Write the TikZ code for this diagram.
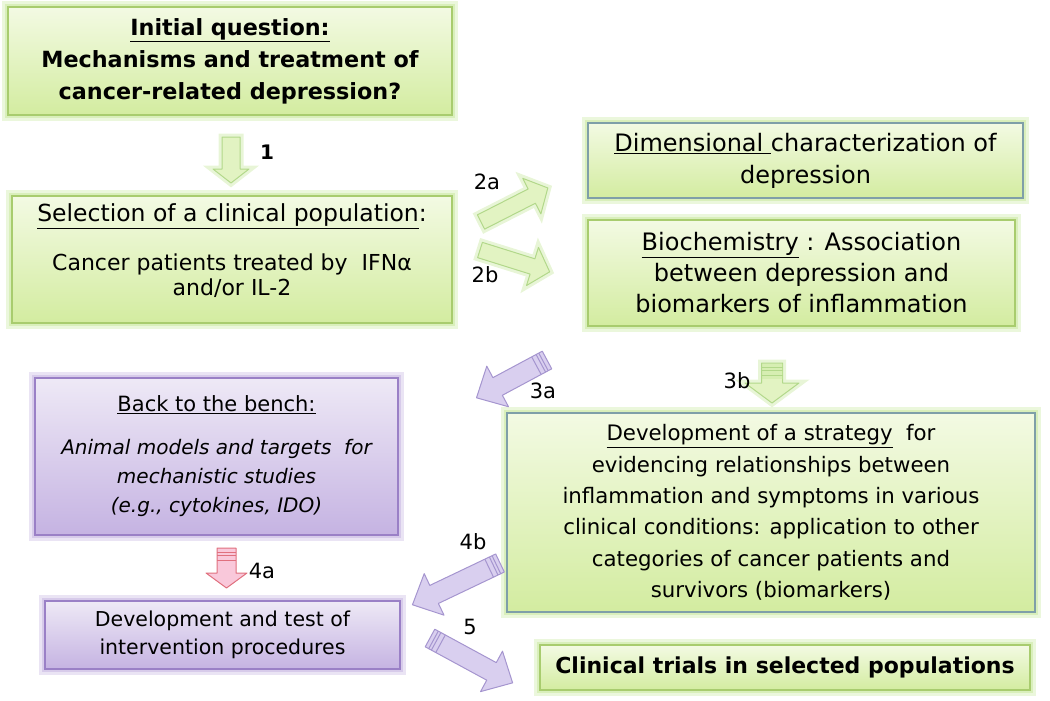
\documentclass[tikz,border=0pt]{standalone}
\usepackage{fontspec}
\setmainfont{DejaVu Sans}
\definecolor{gtop}{HTML}{F3FAE3}
\definecolor{gbot}{HTML}{D3ECA0}
\definecolor{gborder}{HTML}{A8CC6E}
\definecolor{glow}{HTML}{C6E79A}
\definecolor{bborder}{HTML}{7F9FA8}
\definecolor{ptop}{HTML}{EEE9F6}
\definecolor{pbot}{HTML}{C5B3E2}
\definecolor{pborder}{HTML}{9A80C6}
\definecolor{pglow}{HTML}{C4B2E0}
\definecolor{pinkfill}{HTML}{F9C8DA}
\definecolor{pinkdraw}{HTML}{E0707E}
\definecolor{garrfill}{HTML}{E2F3C2}
\definecolor{garrdraw}{HTML}{B2D88A}
\definecolor{parrfill}{HTML}{D9CFEF}
\definecolor{parrdraw}{HTML}{A595CF}
\tikzset{
  gbox/.style={draw=gborder, line width=1.5pt, top color=gtop, bottom color=gbot,
    align=center, inner sep=0pt, text=black,
    preaction={draw=glow, line width=12pt, opacity=0.35},
    preaction={draw=glow, line width=6pt, opacity=0.5}},
  pbox/.style={draw=pborder, line width=1.5pt, top color=ptop, bottom color=pbot,
    align=center, inner sep=0pt, text=black,
    preaction={draw=pglow, line width=12pt, opacity=0.35},
    preaction={draw=pglow, line width=6pt, opacity=0.5}},
  btext/.style={align=center, inner sep=0pt, text=black},
  garrow/.style={draw=garrdraw, fill=garrfill, line width=1pt, line join=round,
    preaction={draw=glow, line width=7pt, opacity=0.4}},
  parrow/.style={draw=parrdraw, fill=parrfill, line width=1pt, line join=round},
  pkarrow/.style={draw=pinkdraw, fill=pinkfill, line width=1pt, line join=round},
  lbl/.style={font=\fontsize{21}{24}\selectfont, inner sep=1pt},
}
% #1 style, #2 tail point, #3 angle, #4 length, #5 shaft half width,
% #6 head half width, #7 head length, #8 stripes (0/1)
\newcommand\blockarr[8]{%
  \begin{scope}[shift={#2}, rotate=#3]
    \path[#1] (0,-#5) -- ({#4-#7},-#5) -- ({#4-#7},-#6) -- (#4,0)
      -- ({#4-#7},#6) -- ({#4-#7},#5) -- (0,#5) -- cycle;
    \ifnum#8=1
      \draw[#1, fill=none, preaction={}] (4,-#5) -- (4,#5) (7,-#5) -- (7,#5) (12,-#5) -- (12,#5);
    \fi
  \end{scope}}
\begin{document}
\begin{tikzpicture}[x=1pt,y=-1pt]
\useasboundingbox (0,0) rectangle (1050,701);
% boxes
\node[gbox, minimum width=444pt, minimum height=108pt,
  font=\bfseries\fontsize{22.3}{32}\selectfont] (b1) at (230,61)
  {\underline{Initial question:}\\Mechanisms and treatment of\\cancer-related depression?};
\node[gbox, minimum width=440pt, minimum height=127pt] (b2) at (232,259.5) {};
\node[btext, font=\fontsize{23.5}{26}\selectfont] (b2t) at (232,216)
  {\underline{Selection of a clinical population}:};
\node[btext, font=\fontsize{22}{25}\selectfont] (b2s) at (232,276)
  {Cancer patients treated by\ \ IFNα\\and/or IL-2};
\node[gbox, draw=bborder, minimum width=435pt, minimum height=75pt,
  font=\fontsize{24}{32}\selectfont] (b3) at (805.5,160.5)
  {\underline{Dimensional }characterization of\\depression};
\node[gbox, minimum width=427pt, minimum height=106pt,
  font=\fontsize{24}{31}\selectfont] (b4) at (801.5,273)
  {\underline{Biochemistry} : Association\\between depression and\\biomarkers of inflammation};
\node[pbox, minimum width=363pt, minimum height=157pt,
  font=\itshape\fontsize{20}{29}\selectfont] (b5) at (216.5,456.5)
  {{\upshape\fontsize{21}{26}\selectfont\underline{Back to the bench:}}\\[14pt]
   Animal models and targets\ \ for\\mechanistic studies\\(e.g., cytokines, IDO)};
\node[gbox, draw=bborder, minimum width=528pt, minimum height=199pt,
  font=\fontsize{21.3}{31.3}\selectfont] (b6) at (771,512.5)
  {\underline{Development of a strategy}\ \ for\\evidencing relationships between\\inflammation and symptoms in various\\clinical conditions: application to other\\categories of cancer patients and\\survivors (biomarkers)};
\node[pbox, minimum width=355pt, minimum height=68pt,
  font=\fontsize{20.5}{28}\selectfont] (b7) at (222.5,635)
  {Development and test of\\intervention procedures};
\node[gbox, minimum width=490pt, minimum height=45pt,
  font=\bfseries\fontsize{22}{26}\selectfont] (b8) at (785,667.5)
  {Clinical trials in selected populations};
% block arrows
\blockarr{garrow}{(231,137)}{-90}{46}{9}{18}{14}{0}
\blockarr{garrow}{(481,222)}{27}{75}{8}{20}{18}{0}
\blockarr{garrow}{(480,250)}{-17.4}{73}{8}{20}{18}{0}
\blockarr{parrow}{(547,360)}{208.2}{80}{10}{23}{24}{1}
\blockarr{garrow}{(772,363)}{-90}{40}{10.5}{27}{20}{1}
\blockarr{pkarrow}{(226.5,548)}{-90}{40}{9.5}{20.5}{15}{1}
\blockarr{parrow}{(500,563)}{205.5}{97}{10}{23}{24}{1}
\blockarr{parrow}{(430,638)}{-28.5}{94}{10}{23}{24}{1}
% labels
\node[lbl, font=\bfseries\fontsize{20}{22}\selectfont] (l1) at (267,152) {1};
\node[lbl] (l2a) at (487,182) {2a};
\node[lbl] (l2b) at (485,275) {2b};
\node[lbl] (l3a) at (543,391) {3a};
\node[lbl] (l3b) at (737,381) {3b};
\node[lbl] (l4a) at (262,571) {4a};
\node[lbl] (l4b) at (473,542) {4b};
\node[lbl] (l5) at (470,627) {5};
\end{tikzpicture}
\end{document}
